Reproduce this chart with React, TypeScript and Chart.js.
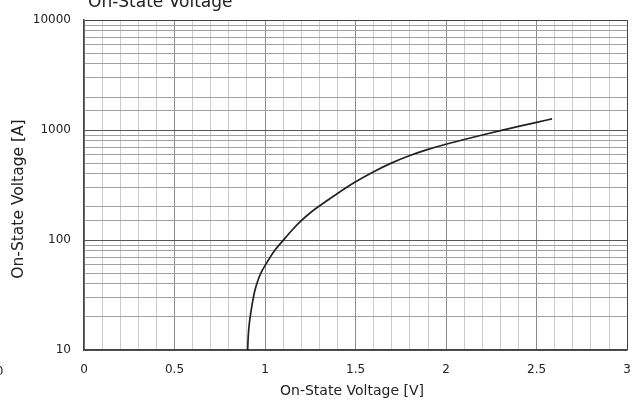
import React, { useEffect, useRef } from "react";
import { Chart, registerables } from "chart.js";

Chart.register(...registerables);

const chartTitle = "On-State Voltage";
const xAxisTitle = "On-State Voltage [V]";
const yAxisTitle = "On-State Voltage [A]";

const voltage = [0.904, 0.906, 0.91, 0.915, 0.927, 0.943, 0.96, 0.98, 1.0, 1.05, 1.1, 1.15, 1.2, 1.25, 1.3, 1.4, 1.5, 1.6, 1.7, 1.8, 1.9, 2.0, 2.1, 2.2, 2.3, 2.4, 2.5, 2.585];
const current = [10, 12.3, 15.5, 18.5, 25.1, 34.4, 42.7, 51.3, 58.6, 79.1, 99.3, 123.6, 150, 177.3, 204.2, 265.5, 338.8, 418.8, 503.5, 587.5, 668.3, 744.7, 822.2, 903.6, 990.8, 1081, 1178, 1265];

const xMin = 0;
const xMax = 3;
const xStep = 0.1;
const yMin = 10;
const yMax = 10000;

const FONT = "'DejaVu Sans', sans-serif";

const isDecade = (v: number) => {
  const l = Math.log10(v);
  return Math.abs(l - Math.round(l)) < 1e-6;
};
const isHalf = (v: number) => Math.abs(v * 2 - Math.round(v * 2)) < 1e-6;

const textPlugin = {
  id: "extraText",
  afterDraw(chart: any) {
    const { ctx } = chart;
    ctx.save();
    ctx.fillStyle = "#222";
    ctx.font = `17px ${FONT}`;
    ctx.textAlign = "left";
    ctx.textBaseline = "alphabetic";
    ctx.fillText(chartTitle, 88, 6.5);
    ctx.font = `14px ${FONT}`;
    ctx.textAlign = "center";
    ctx.textBaseline = "middle";
    ctx.fillText(xAxisTitle, 352, 391);
    ctx.save();
    ctx.translate(19, 199);
    ctx.rotate(-Math.PI / 2);
    ctx.font = `15.5px ${FONT}`;
    ctx.fillText(yAxisTitle, 0, 0);
    ctx.restore();
    ctx.font = `12px ${FONT}`;
    ctx.textAlign = "center";
    ctx.fillText("0", -0.5, 372);
    ctx.restore();
  },
};

export default function App() {
  const ref = useRef<HTMLCanvasElement>(null);
  useEffect(() => {
    if (!ref.current) return;
    const chart = new Chart(ref.current, {
      type: "line",
      data: {
        datasets: [
          {
            data: voltage.map((v, i) => ({ x: v, y: current[i] })),
            borderColor: "#222",
            borderWidth: 1.7,
            pointRadius: 0,
            fill: false,
            cubicInterpolationMode: "monotone",
          },
        ],
      },
      options: {
        animation: false,
        responsive: false,
        maintainAspectRatio: false,
        layout: { padding: { left: 0, right: 16, top: 14, bottom: 0 } },
        plugins: {
          legend: { display: false },
          title: { display: false },
          tooltip: { enabled: false },
        },
        scales: {
          x: {
            type: "linear",
            min: xMin,
            max: xMax,
            ticks: {
              stepSize: xStep,
              autoSkip: false,
              maxRotation: 0,
              padding: 13,
              color: "#222",
              font: { family: FONT, size: 12 },
              callback: (v: any) => (isHalf(Number(v)) ? String(Math.round(Number(v) * 2) / 2) : ""),
            },
            grid: {
              drawTicks: false,
              lineWidth: 1,
              color: (c: any) => {
                const v = c.tick ? c.tick.value : 0;
                if (Math.abs(v - xMax) < 1e-6) return "#444";
                return isHalf(v) ? "#8a8a8a" : "#cccccc";
              },
            },
            border: { color: "#444", width: 1.5 },
            afterFit: (s: any) => {
              s.height = 56;
            },
          },
          y: {
            type: "logarithmic",
            min: yMin,
            max: yMax,
            ticks: {
              autoSkip: false,
              padding: 13,
              color: "#222",
              font: { family: FONT, size: 12 },
              callback: (v: any) => (isDecade(Number(v)) ? String(Number(v)) : ""),
            },
            grid: {
              drawTicks: false,
              lineWidth: 1,
              color: (c: any) => {
                const v = c.tick ? c.tick.value : 10;
                if (Math.abs(v - yMax) < 1e-6) return "#444";
                return isDecade(v) ? "#555" : "#a0a0a0";
              },
            },
            border: { color: "#444", width: 1.5 },
            afterFit: (s: any) => {
              s.width = 84;
            },
          },
        },
      },
      plugins: [textPlugin],
    } as any);
    return () => chart.destroy();
  }, []);
  return (
    <div style={{ position: "fixed", left: 0, top: 0, width: 644, height: 406, background: "#fff" }}>
      <canvas ref={ref} width={644} height={406} style={{ display: "block", width: 644, height: 406 }} />
    </div>
  );
}
